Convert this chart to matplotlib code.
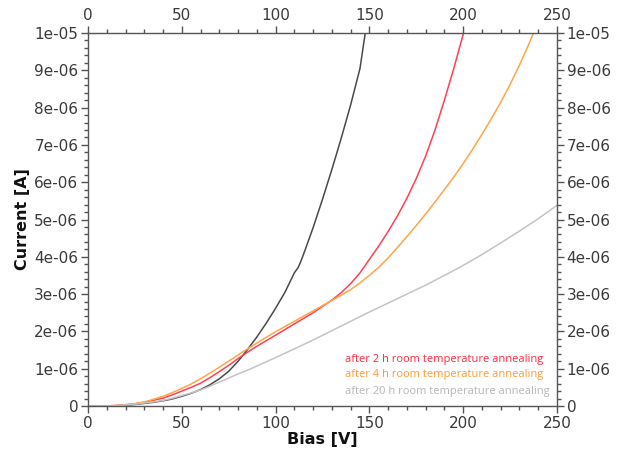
import matplotlib
matplotlib.use("Agg")
import matplotlib.pyplot as plt
from matplotlib.ticker import MultipleLocator, FixedLocator, FixedFormatter

# Data (bias in V, current in units of 1e-6 A)
bias_0h = [0, 10, 15, 20, 25, 30, 35, 40, 45, 50, 55, 60, 65, 70, 75, 80, 85, 90, 95,
           100, 105, 108, 110, 111, 112, 113, 115, 120, 125, 130, 135, 140, 145, 147.8]
cur_0h = [0, 0, 0.005, 0.02, 0.04, 0.07, 0.1, 0.14, 0.19, 0.26, 0.34, 0.44, 0.57, 0.73, 0.93,
          1.2, 1.51, 1.85, 2.22, 2.62, 3.05, 3.36, 3.57, 3.64, 3.71, 3.82, 4.08, 4.78, 5.54,
          6.34, 7.18, 8.07, 9.05, 10.0]

bias_2h = [0, 5, 10, 15, 20, 25, 30, 35, 40, 45, 50, 55, 60, 65, 70, 75, 80, 85, 90, 95,
           100, 105, 110, 115, 120, 125, 130, 135, 140, 145, 150, 155, 160, 165, 170, 175,
           180, 185, 190, 195, 200.2]
cur_2h = [0, 0, 0.005, 0.015, 0.035, 0.06, 0.1, 0.155, 0.21, 0.3, 0.4, 0.5, 0.61, 0.76,
          0.92, 1.09, 1.27, 1.44, 1.6, 1.75, 1.9, 2.05, 2.2, 2.35, 2.5, 2.67, 2.84, 3.04,
          3.28, 3.57, 3.93, 4.29, 4.68, 5.1, 5.57, 6.1, 6.7, 7.4, 8.2, 9.05, 10.0]

bias_4h = [0, 10, 15, 20, 25, 30, 35, 40, 45, 50, 55, 60, 65, 70, 75, 80, 85, 90, 95, 100,
           105, 110, 115, 120, 125, 130, 135, 140, 145, 150, 155, 160, 165, 170, 175, 180,
           185, 190, 195, 200, 205, 210, 215, 220, 225, 230, 235, 237.5]
cur_4h = [0, 0, 0.01, 0.03, 0.06, 0.11, 0.18, 0.26, 0.36, 0.47, 0.59, 0.73, 0.88, 1.04,
          1.2, 1.37, 1.53, 1.69, 1.84, 1.99, 2.13, 2.27, 2.41, 2.55, 2.69, 2.83, 2.97, 3.12,
          3.3, 3.5, 3.72, 3.97, 4.25, 4.54, 4.84, 5.15, 5.47, 5.8, 6.14, 6.5, 6.88, 7.28,
          7.7, 8.14, 8.62, 9.14, 9.7, 10.0]

bias_20h = [0, 10, 15, 20, 25, 30, 35, 40, 45, 50, 55, 60, 65, 70, 75, 80, 85, 90, 100,
            110, 120, 130, 140, 150, 160, 170, 180, 190, 200, 210, 220, 230, 240, 250]
cur_20h = [0, 0, 0.01, 0.03, 0.05, 0.08, 0.11, 0.15, 0.21, 0.28, 0.35, 0.43, 0.53, 0.64,
           0.75, 0.86, 0.96, 1.07, 1.3, 1.53, 1.77, 2.02, 2.27, 2.52, 2.76, 3.0, 3.24, 3.5,
           3.77, 4.06, 4.37, 4.69, 5.02, 5.38]

legend_labels = ["after 2 h room temperature annealing",
                 "after 4 h room temperature annealing",
                 "after 20 h room temperature annealing"]

x_ticks = [0, 50, 100, 150, 200, 250]
y_ticks = [0, 1e-6, 2e-6, 3e-6, 4e-6, 5e-6, 6e-6, 7e-6, 8e-6, 9e-6, 1e-5]
y_tick_labels = ["0", "1e-06", "2e-06", "3e-06", "4e-06", "5e-06",
                 "6e-06", "7e-06", "8e-06", "9e-06", "1e-05"]

fig = plt.figure(figsize=(6.17, 4.54), dpi=100)
ax = fig.add_axes([0.1426, 0.1057, 0.7601, 0.8216])

scale = 1e-6
ax.plot(bias_0h, [v * scale for v in cur_0h], color="#4a4a4a", lw=1.1)
ax.plot(bias_2h, [v * scale for v in cur_2h], color="#ff4050", lw=1.1)
ax.plot(bias_4h, [v * scale for v in cur_4h], color="#ffa548", lw=1.1)
ax.plot(bias_20h, [v * scale for v in cur_20h], color="#c4c4c4", lw=1.1)

ax.set_xlim(0, 250)
ax.set_ylim(0, 1e-5)

ax.xaxis.set_major_locator(FixedLocator(x_ticks))
ax.xaxis.set_minor_locator(MultipleLocator(10))
ax.yaxis.set_major_locator(FixedLocator(y_ticks))
ax.yaxis.set_major_formatter(FixedFormatter(y_tick_labels))
ax.yaxis.set_minor_locator(MultipleLocator(2e-7))

tick_col = "#3a3a3a"
ax.tick_params(which="both", direction="out", top=True, right=True,
               labeltop=True, labelright=True, colors="#555555",
               labelcolor=tick_col, labelsize=11, width=1)
ax.tick_params(which="major", length=5, pad=2)
ax.tick_params(which="minor", length=3)
for s in ax.spines.values():
    s.set_color("#555555")
    s.set_linewidth(1.0)

ax.set_xlabel("Bias [V]", fontsize=11.5, fontweight="bold", labelpad=1, color="#111111")
ax.set_ylabel("Current [A]", fontsize=11.5, fontweight="bold", labelpad=3, color="#111111")

leg_colors = ["#ff2a40", "#ff9a30", "#b4b6b8"]
leg_y = [1.25e-6, 0.85e-6, 0.40e-6]
for lab, c, yy in zip(legend_labels, leg_colors, leg_y):
    ax.text(137, yy, lab, color=c, fontsize=8.0, ha="left", va="center",
            family="Open Sans")

fig.savefig("out.png", dpi=100)
